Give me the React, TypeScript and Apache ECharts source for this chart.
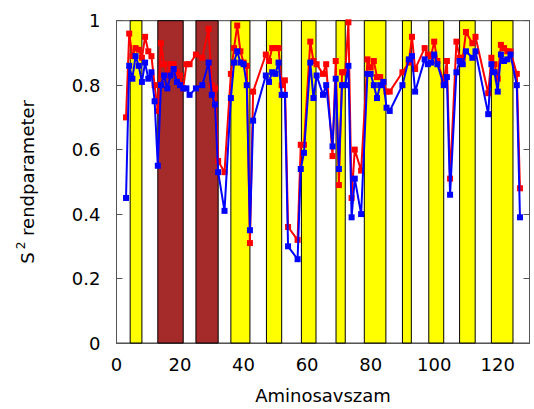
import React, { useEffect, useRef } from "react";
import * as echarts from "echarts";

const residues: number[] = [
  3, 4, 5, 6, 7, 8, 9, 10, 11, 12, 13, 14, 15, 16, 17, 18, 19, 20, 21, 22, 23, 25, 27, 29, 30, 31, 32, 34,
  36, 37, 38, 39, 40, 41, 42, 43, 47, 48, 49, 50, 51, 52, 53, 54, 57, 58, 59, 61, 62, 63, 65, 66,
  68, 69, 70, 71, 72, 73, 74, 75, 77, 79, 80, 81, 82, 83, 84, 85, 86, 90, 92, 93, 94,
  97, 98, 99, 100, 101, 103, 104, 105, 107, 108, 109, 110, 112, 113, 117, 118, 119, 120, 121, 122, 123, 124, 126, 127,
];

const blueValues: number[] = [
  0.45, 0.86, 0.82, 0.89, 0.86, 0.81, 0.87, 0.82, 0.84, 0.75, 0.55, 0.8, 0.83, 0.79, 0.83, 0.85, 0.81, 0.8, 0.79, 0.79, 0.77, 0.79, 0.8, 0.87, 0.77, 0.74, 0.53, 0.41,
  0.76, 0.87, 0.905, 0.87, 0.865, 0.8, 0.35, 0.69, 0.83, 0.81, 0.84, 0.835, 0.87, 0.77, 0.77, 0.3, 0.26, 0.54, 0.59, 0.87, 0.76, 0.83, 0.77, 0.8,
  0.61, 0.82, 0.54, 0.8, 0.8, 0.86, 0.39, 0.51, 0.4, 0.835, 0.835, 0.8, 0.76, 0.8, 0.81, 0.73, 0.72, 0.8, 0.88, 0.89, 0.78,
  0.88, 0.865, 0.87, 0.895, 0.865, 0.8, 0.825, 0.46, 0.84, 0.875, 0.865, 0.905, 0.885, 0.905, 0.71, 0.865, 0.84, 0.78, 0.895, 0.875, 0.88, 0.895, 0.8, 0.39,
];

const redValues: number[] = [
  0.7, 0.96, 0.89, 0.915, 0.91, 0.885, 0.95, 0.905, 0.89, 0.8, 0.72, 0.93, 0.865, 0.83, 0.865, 0.865, 0.84, 0.83, 0.79, 0.865, 0.865, 0.895, 0.885, 0.975, 0.8, 0.79, 0.565, 0.53,
  0.835, 0.915, 0.985, 0.905, 0.87, 0.86, 0.31, 0.78, 0.895, 0.875, 0.915, 0.915, 0.915, 0.8, 0.815, 0.36, 0.32, 0.615, 0.615, 0.935, 0.875, 0.865, 0.835, 0.865,
  0.58, 0.875, 0.49, 0.84, 0.84, 0.995, 0.45, 0.6, 0.535, 0.88, 0.855, 0.875, 0.825, 0.825, 0.81, 0.78, 0.78, 0.84, 0.87, 0.95, 0.85,
  0.915, 0.895, 0.89, 0.935, 0.875, 0.81, 0.875, 0.51, 0.935, 0.885, 0.885, 0.965, 0.93, 0.95, 0.775, 0.885, 0.865, 0.82, 0.925, 0.915, 0.905, 0.905, 0.835, 0.48,
];

const yellowBands: [number, number][] = [
  [4.3, 8], [36, 42], [47.2, 52], [58.2, 62.8], [69.1, 72], [78, 84.8], [90, 92.8], [98.3, 103], [108, 112.9], [118, 124.8],
];
const brownBands: [number, number][] = [[13, 21], [25, 32]];

const xTicks = { min: 0, max: 130, interval: 20 };
const yTicks = { min: 0, max: 1, interval: 0.2 };

const FONT = "DejaVu Sans";

export default function App() {
  const ref = useRef<HTMLDivElement>(null);
  useEffect(() => {
    if (!ref.current) return;
    const chart = echarts.init(ref.current, null, { renderer: "svg" });
    const bandData: any[] = [];
    yellowBands.forEach(([a, b]) =>
      bandData.push([{ xAxis: a, itemStyle: { color: "#FFFF00", borderColor: "#000", borderWidth: 1 } }, { xAxis: b }])
    );
    brownBands.forEach(([a, b]) =>
      bandData.push([{ xAxis: a, itemStyle: { color: "#A52A2A", borderColor: "#000", borderWidth: 1 } }, { xAxis: b }])
    );
    const axisLineStyle = { color: "#555", width: 1 };
    const labelStyle = { color: "#000", fontFamily: FONT, fontSize: 18 };
    const option: any = {
      animation: false,
      grid: {
        left: 116.5,
        top: 20.7,
        right: 4.5,
        bottom: 63.3,
        show: true,
        borderColor: "#444",
        borderWidth: 1,
        backgroundColor: "#fff",
      },
      xAxis: {
        type: "value",
        min: xTicks.min,
        max: xTicks.max,
        interval: xTicks.interval,
        name: "Aminosavszam",
        nameLocation: "middle",
        nameGap: 43,
        nameTextStyle: { ...labelStyle },
        axisLine: { show: true, lineStyle: axisLineStyle },
        axisTick: { show: true, inside: true, length: 6, lineStyle: axisLineStyle },
        axisLabel: { ...labelStyle, margin: 12, showMaxLabel: false },
        splitLine: { show: false },
      },
      yAxis: [
        {
          type: "value",
          min: yTicks.min,
          max: yTicks.max,
          interval: yTicks.interval,
          position: "left",
          name: "{a|S}{b|2}{a| rendparameter}",
          nameLocation: "middle",
          nameGap: 80,
          nameTextStyle: {
            ...labelStyle,
            rich: {
              a: { fontFamily: FONT, fontSize: 18, lineHeight: 22, color: "#000", verticalAlign: "bottom" },
              b: { fontFamily: FONT, fontSize: 12, lineHeight: 12, color: "#000", verticalAlign: "top", padding: [0, 0, 0, 3] },
            },
          },
          axisLine: { show: true, lineStyle: axisLineStyle },
          axisTick: { show: true, inside: true, length: 6, lineStyle: axisLineStyle },
          axisLabel: { ...labelStyle, margin: 16 },
          splitLine: { show: false },
        },
        {
          type: "value",
          min: yTicks.min,
          max: yTicks.max,
          interval: yTicks.interval,
          position: "right",
          axisLine: { show: true, lineStyle: axisLineStyle },
          axisTick: { show: true, inside: true, length: 6, lineStyle: axisLineStyle },
          axisLabel: { show: false },
          splitLine: { show: false },
        },
      ],
      series: [
        {
          type: "line",
          data: [],
          z: 1,
          silent: true,
          markArea: { silent: true, data: bandData },
        },
        {
          type: "line",
          name: "red",
          z: 3,
          data: residues.map((r, i) => [r, redValues[i]]),
          symbol: "rect",
          symbolSize: 6,
          showSymbol: true,
          showAllSymbol: true,
          lineStyle: { color: "#FF0000", width: 2 },
          itemStyle: { color: "#FF0000" },
        },
        {
          type: "line",
          name: "blue",
          z: 4,
          data: residues.map((r, i) => [r, blueValues[i]]),
          symbol: "rect",
          symbolSize: 6,
          showSymbol: true,
          showAllSymbol: true,
          lineStyle: { color: "#0000FF", width: 2 },
          itemStyle: { color: "#0000FF" },
        },
      ],
    };
    chart.setOption(option);
    return () => chart.dispose();
  }, []);
  return (
    <div
      ref={ref}
      style={{ position: "fixed", left: 0, top: 0, width: 534, height: 409, background: "#fff" }}
    />
  );
}
